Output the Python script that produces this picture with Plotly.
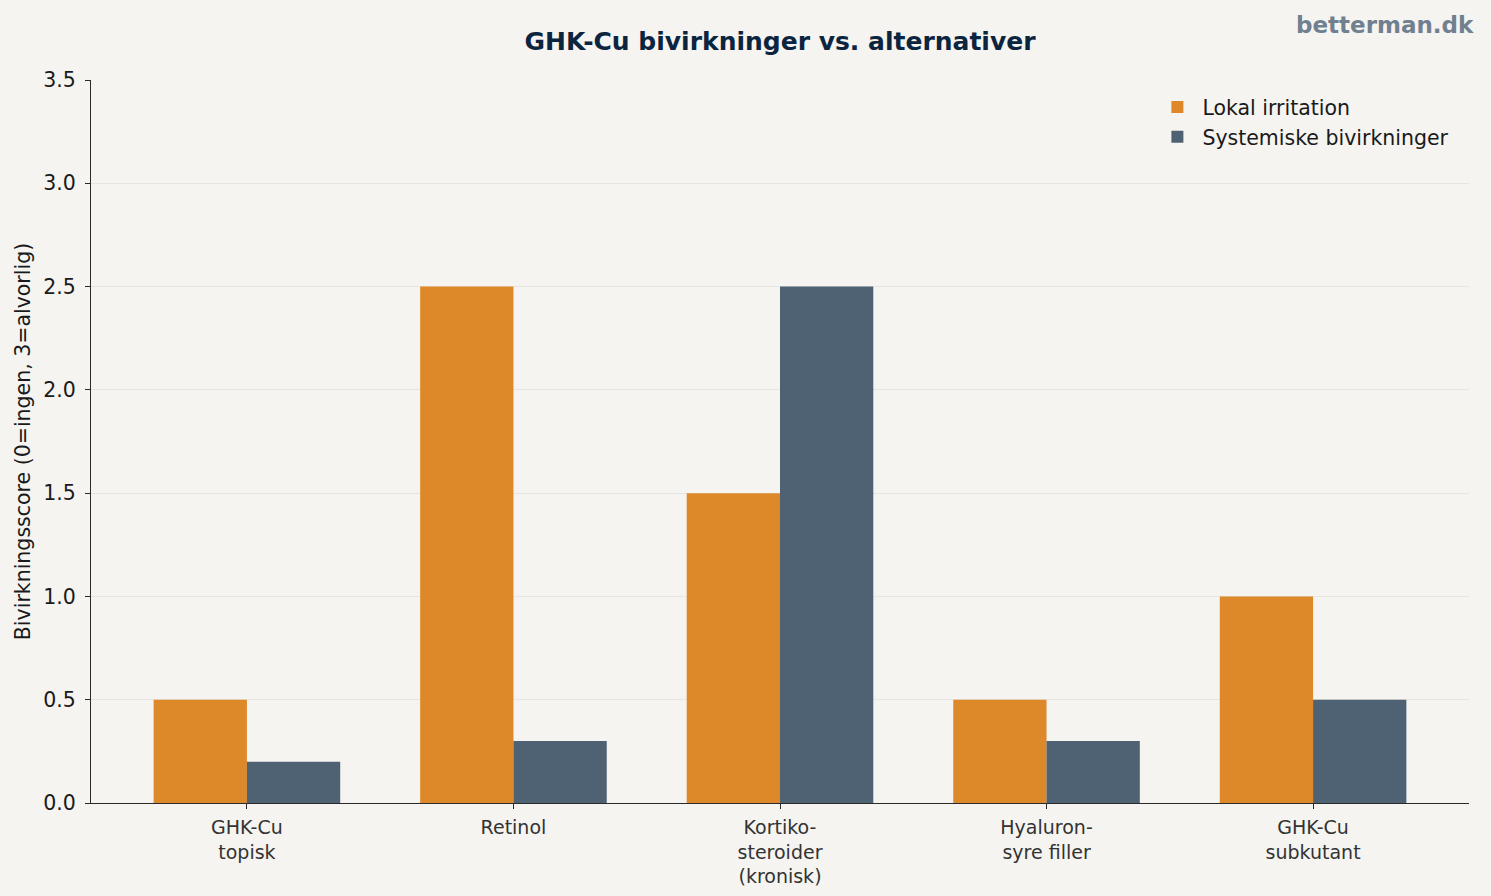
import plotly.graph_objects as go

categories = ["GHK-Cu<br>topisk", "Retinol", "Kortiko-<br>steroider<br>(kronisk)", "Hyaluron-<br>syre filler", "GHK-Cu<br>subkutant"]
lokal = [0.5, 2.5, 1.5, 0.5, 1.0]
systemisk = [0.2, 0.3, 2.5, 0.3, 0.5]
yticks = [0.0, 0.5, 1.0, 1.5, 2.0, 2.5, 3.0, 3.5]

pos = list(range(len(categories)))
bw = 0.35

fig = go.Figure()
fig.add_trace(go.Bar(x=pos, y=lokal, width=bw, offset=-bw, name="Lokal irritation",
                     marker=dict(color="#DD8829", line=dict(width=0))))
fig.add_trace(go.Bar(x=pos, y=systemisk, width=bw, offset=0, name="Systemiske bivirkninger",
                     marker=dict(color="#4F6273", line=dict(width=0))))

fig.update_layout(
    width=1491, height=896,
    paper_bgcolor="#F5F4F0", plot_bgcolor="#F5F4F0",
    margin=dict(l=91, r=22, t=80, b=93, autoexpand=False),
    font=dict(family="DejaVu Sans", size=20, color="#1a1a1a"),
    title=dict(text="<b>GHK-Cu bivirkninger vs. alternativer</b>", x=0.5, xref="paper",
               y=1 - 41 / 896, yref="container", yanchor="middle", xanchor="center",
               font=dict(size=25, color="#0B2540")),
    barmode="overlay",
    showlegend=True,
    legend=dict(x=0.9894, y=0.99, xanchor="right", yanchor="top", bgcolor="rgba(0,0,0,0)",
                font=dict(size=20.5, color="#1a1a1a"), itemwidth=40, tracegroupgap=4),
    xaxis=dict(range=[-0.585, 4.585], tickmode="array", tickvals=pos, ticktext=categories,
               showgrid=False, showline=True, linecolor="#2a2a2a", linewidth=1.3,
               ticks="outside", ticklen=5, tickwidth=1.3, tickcolor="#2a2a2a",
               ticklabelstandoff=2, automargin=False,
               tickfont=dict(size=19, color="#333333"), zeroline=False),
    yaxis=dict(range=[0, 3.5], tickmode="array", tickvals=yticks,
               ticktext=[f"{v:.1f}" for v in yticks],
               showgrid=True, gridcolor="#E6E5E1", gridwidth=1,
               showline=True, linecolor="#2a2a2a", linewidth=1.3,
               ticks="outside", ticklen=5, tickwidth=1.3, tickcolor="#2a2a2a",
               ticklabelstandoff=5, automargin=False,
               tickfont=dict(size=20.5, color="#1a1a1a"), zeroline=False,
               title=dict(text="Bivirkningsscore (0=ingen, 3=alvorlig)", standoff=6,
                          font=dict(size=20.5, color="#1a1a1a"))),
    annotations=[dict(text="<b>betterman.dk</b>", xref="paper", yref="paper",
                      x=1.005, y=1 + (80 - 25) / 723, xanchor="right", yanchor="middle", showarrow=False,
                      font=dict(size=23, color="#708090"))],
)

fig.write_html("out.html")
